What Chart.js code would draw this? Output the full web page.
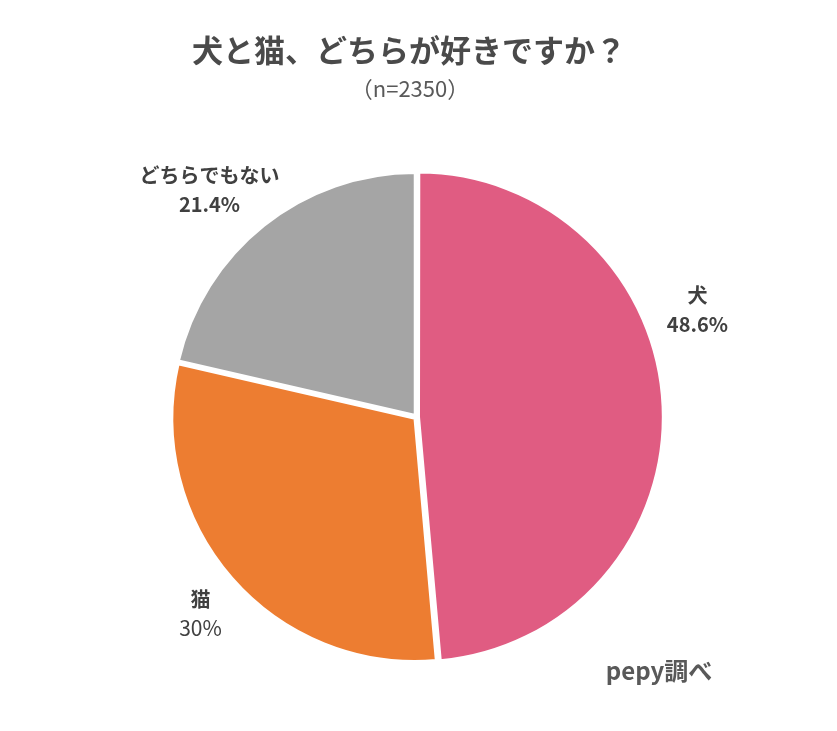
<!DOCTYPE html>
<html lang="ja">
<head>
<meta charset="utf-8">
<title>犬と猫、どちらが好きですか？</title>
<script src="https://cdn.jsdelivr.net/npm/chart.js@4.4.1/dist/chart.umd.min.js"></script>
<style>
  html, body { margin: 0; padding: 0; background: #ffffff; }
  #wrap { width: 837px; height: 731px; position: relative; }
</style>
</head>
<body>
<div id="wrap"><canvas id="pie-chart" width="837" height="731"></canvas></div>
<script>
const titleText = "犬と猫、どちらが好きですか？";
const subtitleText = "（n=2350）";
const sourceText = "pepy調べ";

const categories = ["犬", "猫", "どちらでもない"];
const shares = [48.6, 30, 21.4];
const shareLabels = ["48.6%", "30%", "21.4%"];
const sliceColors = ["#e05c82", "#ed7d31", "#a5a5a5"];

// where each label sits, relative to the pie centre, in units of the radius
const labelPlaces = [
  { dx: 1.156, dy: -0.444, valueFont: "bold 20px " },
  { dx: -0.889, dy: 0.807, valueFont: "21px " },
  { dx: -0.852, dy: -0.938, valueFont: "bold 20px " },
];

const jpFont = '"Noto Sans CJK JP", "Noto Sans", sans-serif';
const textColor = "#404040";

const textPlugin = {
  id: "pieText",
  afterDraw(chart) {
    const ctx = chart.ctx;
    ctx.save();
    ctx.textAlign = "center";
    ctx.textBaseline = "middle";

    // title + subtitle
    ctx.fillStyle = "#4a4a4a";
    ctx.font = "bold 31px " + jpFont;
    ctx.fillText(titleText, 409, 50);
    ctx.fillStyle = "#595959";
    ctx.font = "22px " + jpFont;
    ctx.fillText(subtitleText, 410, 89);

    // slice labels
    const meta = chart.getDatasetMeta(0);
    meta.data.forEach((arc, i) => {
      const { x, y, outerRadius } = arc.getProps(["x", "y", "outerRadius"], true);
      const place = labelPlaces[i];
      const lx = x + place.dx * outerRadius;
      const ly = y + place.dy * outerRadius;
      ctx.fillStyle = textColor;
      ctx.font = "bold 20px " + jpFont;
      ctx.fillText(categories[i], lx, ly - 14);
      ctx.font = place.valueFont + jpFont;
      ctx.fillText(shareLabels[i], lx, ly + 15);
    });

    // source note
    ctx.fillStyle = "#595959";
    ctx.font = "bold 24px " + jpFont;
    ctx.fillText(sourceText, 659, 671);
    ctx.restore();
  },
};

const ctx = document.getElementById("pie-chart").getContext("2d");
new Chart(ctx, {
  type: "pie",
  data: {
    labels: categories,
    datasets: [
      {
        data: shares,
        backgroundColor: sliceColors,
        borderColor: "#ffffff",
        borderWidth: 3,
        offset: 8,
      },
    ],
  },
  options: {
    responsive: false,
    animation: false,
    layout: {
      padding: { left: 168, right: 172, top: 168, bottom: 65 },
    },
    plugins: {
      legend: { display: false },
      tooltip: { enabled: false },
      title: { display: false },
    },
  },
  plugins: [textPlugin],
});
</script>
</body>
</html>
